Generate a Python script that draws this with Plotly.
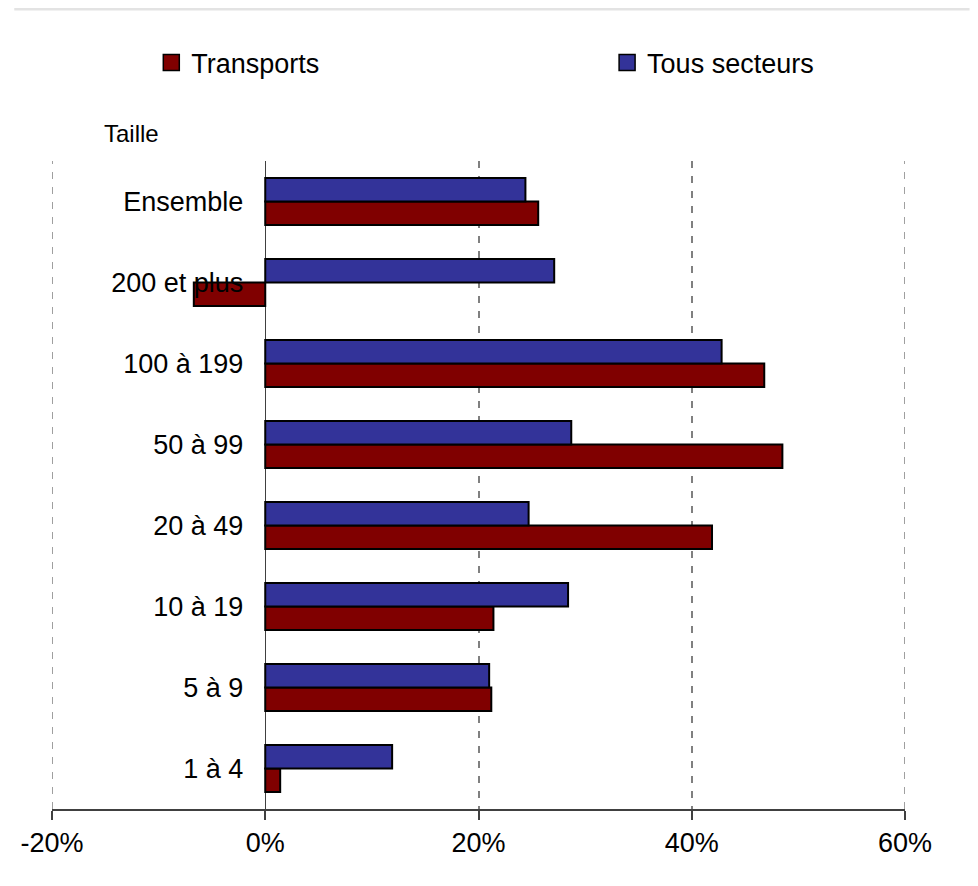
import plotly.graph_objects as go

categories = ["1 à 4", "5 à 9", "10 à 19", "20 à 49", "50 à 99", "100 à 199", "200 et plus", "Ensemble"]
transports = [1.4, 21.2, 21.4, 41.9, 48.5, 46.8, -6.7, 25.6]
tous_secteurs = [11.9, 21.0, 28.4, 24.7, 28.7, 42.8, 27.1, 24.4]
x_ticks = [-20, 0, 20, 40, 60]
x_tick_labels = ["-20%", "0%", "20%", "40%", "60%"]

RED = "#800000"
BLUE = "#333399"
GRID = "#808080"
FONT = "Liberation Sans, Arial, sans-serif"

OFF = 8  # page body margin
W, H = 978 - 2 * OFF, 886 - 2 * OFF
ML, MT = 46 - OFF, 161 - OFF
PW, PH = 859, 648
MR = W - ML - PW
MB = H - MT - PH

def px_x(p):
    return (p - OFF - ML) / PW

def px_y(p):
    return (H - MB - (p - OFF)) / PH

fig = go.Figure()
fig.add_trace(go.Bar(
    y=categories, x=transports, orientation="h", name="Transports",
    marker=dict(color=RED, line=dict(color="black", width=2)),
    showlegend=False, legendgroup="t"))
fig.add_trace(go.Bar(
    y=categories, x=tous_secteurs, orientation="h", name="Tous secteurs",
    marker=dict(color=BLUE, line=dict(color="black", width=2)),
    showlegend=False, legendgroup="s"))
# legend entries with larger square symbols
fig.add_trace(go.Scatter(
    x=[None], y=[None], mode="markers", name="Transports", legendgroup="t", legend="legend",
    marker=dict(symbol="square", size=16, color=RED, line=dict(color="black", width=1.5))))
fig.add_trace(go.Scatter(
    x=[None], y=[None], mode="markers", name="Tous secteurs", legendgroup="s", legend="legend2",
    marker=dict(symbol="square", size=16, color=BLUE, line=dict(color="black", width=1.5))))

grid_edges = [dict(type="line", xref="x", yref="paper", x0=v, x1=v, y0=0, y1=1, layer="below",
                   line=dict(color=GRID, width=1.5, dash="7px,8px")) for v in (x_ticks[0], x_ticks[-1])]

fig.update_layout(
    width=W, height=H,
    margin=dict(l=ML, r=MR, t=MT, b=MB),
    paper_bgcolor="white", plot_bgcolor="white",
    font=dict(family=FONT, size=27, color="black"),
    barmode="group", bargap=0.42, bargroupgap=0,
    legend=dict(orientation="h", x=px_x(146), y=px_y(63), xanchor="left", yanchor="middle",
                font=dict(size=27), bgcolor="rgba(0,0,0,0)"),
    legend2=dict(orientation="h", x=px_x(605), y=px_y(63), xanchor="left", yanchor="middle",
                 font=dict(size=27), bgcolor="rgba(0,0,0,0)"),
    xaxis=dict(range=[x_ticks[0], x_ticks[-1]], tickvals=x_ticks, ticktext=x_tick_labels,
               showgrid=True, gridcolor=GRID, gridwidth=1.5, griddash="7px,8px",
               zeroline=True, zerolinecolor="#404040", zerolinewidth=1,
               showline=True, linecolor="#404040", linewidth=1.5,
               ticks="outside", ticklen=9, tickcolor="#404040", tickwidth=1.5,
               tickfont=dict(size=27), fixedrange=True),
    yaxis=dict(type="category", categoryorder="array", categoryarray=categories,
               range=[-0.5, 7.5], anchor="free", position=0.25,
               showgrid=False, zeroline=False, showline=False, ticks="",
               ticklabelstandoff=22, tickfont=dict(size=27), fixedrange=True),
    annotations=[dict(text="Taille", x=px_x(96), y=px_y(133), xref="paper", yref="paper",
                      xanchor="left", yanchor="middle", showarrow=False,
                      font=dict(size=24, color="black"))],
    shapes=grid_edges + [
        dict(type="line", xref="paper", yref="paper", x0=px_x(OFF), x1=px_x(OFF + W), y0=px_y(OFF + 1), y1=px_y(OFF + 1),
             line=dict(color="#e3e3e3", width=3)),
    ],
)

fig.write_html("out.html")
